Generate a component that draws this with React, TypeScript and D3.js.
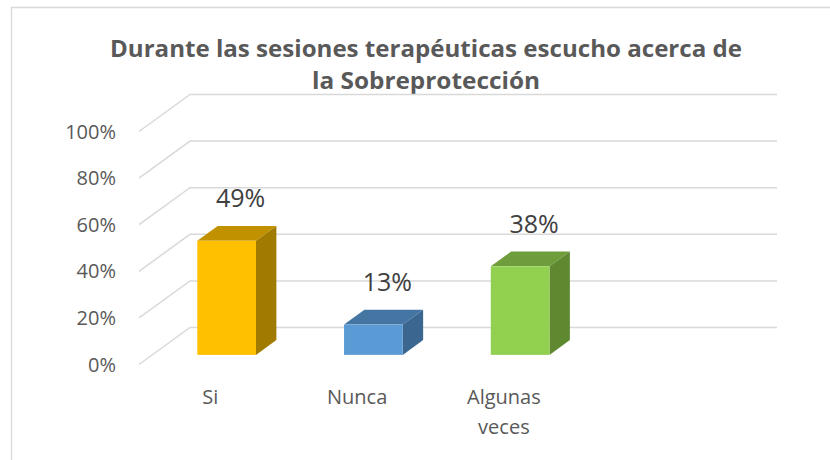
import React from "react";
import * as d3 from "d3";

const titleLines = ["Durante las sesiones terapéuticas escucho acerca de", "la Sobreprotección"];
const titleWidths = [632, 228];
const categories = ["Si", "Nunca", "Algunas veces", ""];
const values = [0.49, 0.13, 0.38, null as number | null];
const valueLabels = ["49%", "13%", "38%", ""];
const yTicks = [0, 0.2, 0.4, 0.6, 0.8, 1.0];
const frontColors = ["#FFC000", "#5B9BD5", "#92D050"];
const topColors = ["#C29100", "#4576A3", "#6F9D3C"];
const sideColors = ["#A17A00", "#3A6690", "#5F8931"];

const W = 830;
const H = 460;
const x0 = 140;
const plotW = 587;
const yFront0 = 364.5;
const plotH = 233;
const depthDx = 51;
const depthDy = -37;
const barFrontDepth = 0.26;
const barBackDepth = 0.66;

export default function App() {
  const x = d3.scaleBand<string>().domain(categories).range([x0, x0 + plotW]).paddingInner(0.6).paddingOuter(0.3);
  const y = d3.scaleLinear().domain([0, 1]).range([yFront0, yFront0 - plotH]);
  const fmt = d3.format(".0%");
  const grey = "#595959";
  const grid = "#D9D9D9";

  return (
    <div style={{ position: "fixed", left: 0, top: 0 }}>
      <svg width={W} height={H} style={{ display: "block", background: "#fff" }}>
        <rect x={0} y={0} width={W} height={H} fill="#fff" />
        {/* chart border */}
        <path d={`M11.5,${H} L11.5,7.5 L${W},7.5`} fill="none" stroke={grid} strokeWidth={1.3} />
        {/* title */}
        <text textAnchor="middle" fontFamily="'Open Sans', sans-serif" fontWeight={700} fontSize={23.2} fill={grey}>
          {titleLines.map((t, i) => (
            <tspan key={i} x={426} y={57 + i * 32} textLength={titleWidths[i]} lengthAdjust="spacingAndGlyphs">
              {t}
            </tspan>
          ))}
        </text>
        {/* gridlines */}
        {yTicks.map((t) => {
          const yf = y(t);
          return (
            <g key={t}>
              <path
                d={`M${x0 - 1},${yf} L${x0 - 1 + depthDx},${yf + depthDy} L${x0 + depthDx + plotW - 1},${yf + depthDy}`}
                fill="none"
                stroke={grid}
                strokeWidth={1.5}
              />
              <text x={116} y={yf + 7} textAnchor="end" fontFamily="'Open Sans', sans-serif" fontSize={20} fill={grey}>
                {fmt(t)}
              </text>
            </g>
          );
        })}
        {/* bars */}
        {categories.map((c, i) => {
          const v = values[i];
          if (v == null) return null;
          const fdx = barFrontDepth * depthDx;
          const fdy = barFrontDepth * depthDy;
          const bdx = (barBackDepth - barFrontDepth) * depthDx;
          const bdy = (barBackDepth - barFrontDepth) * depthDy;
          const xl = (x(c) as number) + fdx;
          const xr = xl + x.bandwidth();
          const yb = y(0) + fdy;
          const yt = y(v) + fdy;
          return (
            <g key={c}>
              <path d={`M${xl},${yt} L${xl + bdx},${yt + bdy} L${xr + bdx},${yt + bdy} L${xr},${yt} Z`} fill={topColors[i]} />
              <path d={`M${xr},${yt} L${xr + bdx},${yt + bdy} L${xr + bdx},${yb + bdy} L${xr},${yb} Z`} fill={sideColors[i]} />
              <rect x={xl} y={yt} width={x.bandwidth()} height={yb - yt} fill={frontColors[i]} />
              <text
                x={(xl + xr) / 2 + 14}
                y={yt + bdy - 19}
                textAnchor="middle"
                fontFamily="'Open Sans', sans-serif"
                fontSize={25}
                fill="#404040"
              >
                {valueLabels[i]}
              </text>
            </g>
          );
        })}
        {/* category labels */}
        {categories.map((c) => {
          const cx = (x(c) as number) + x.bandwidth() / 2;
          const words = c === "Algunas veces" ? ["Algunas", "veces"] : [c];
          return (
            <text key={c} textAnchor="middle" fontFamily="'Open Sans', sans-serif" fontSize={20} fill={grey}>
              {words.map((w, k) => (
                <tspan key={k} x={cx - 3} y={404 + k * 30}>
                  {w}
                </tspan>
              ))}
            </text>
          );
        })}
      </svg>
    </div>
  );
}
